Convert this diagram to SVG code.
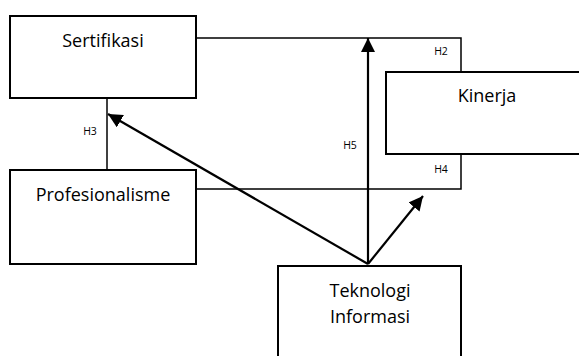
<svg xmlns="http://www.w3.org/2000/svg" width="579" height="356" viewBox="0 0 579 356">
<style>
.box{fill:#fff;stroke:#000;stroke-width:2}
.ln{fill:none;stroke:#000;stroke-width:1.5}
.ar{fill:none;stroke:#000;stroke-width:2.2}
.t{font-family:"Open Sans","Liberation Sans",sans-serif;font-size:18px;fill:#000;text-anchor:middle}
.s{font-family:"Open Sans","Liberation Sans",sans-serif;font-size:10.5px;fill:#000;text-anchor:middle}
</style>
<defs>
<marker id="ah" viewBox="0 0 10 10" refX="10" refY="5" markerWidth="6.5" markerHeight="6.5" orient="auto" markerUnits="strokeWidth">
<path d="M0,0 L10,5 L0,10 z" fill="#000"/>
</marker>
</defs>
<g id="connectors">
<polyline class="ln" points="196,38 461,38 461,72"/>
<polyline class="ln" points="461,154 461,189 196,189"/>
<line class="ln" x1="107" y1="98" x2="107" y2="170"/>
<line class="ar" x1="368" y1="264" x2="368" y2="38" marker-end="url(#ah)"/>
<line class="ar" x1="368" y1="264" x2="108" y2="114" marker-end="url(#ah)"/>
<line class="ar" x1="368" y1="264" x2="423" y2="196" marker-end="url(#ah)"/>
<text class="s" x="441" y="55">H2</text>
<text class="s" x="90" y="135">H3</text>
<text class="s" x="350" y="149">H5</text>
<text class="s" x="441" y="173">H4</text>
</g>
<g id="sertifikasi">
<rect class="box" x="10" y="16" width="186" height="82"/>
<text class="t" x="103" y="47">Sertifikasi</text>
</g>
<g id="kinerja">
<rect class="box" x="386" y="72" width="200" height="82"/>
<text class="t" x="487" y="102">Kinerja</text>
</g>
<g id="profesionalisme">
<rect class="box" x="10" y="170" width="186" height="94"/>
<text class="t" x="103" y="201">Profesionalisme</text>
</g>
<g id="teknologi">
<rect class="box" x="278" y="266" width="183" height="100"/>
<text class="t" x="370" y="297">Teknologi</text>
<text class="t" x="370" y="323">Informasi</text>
</g>
</svg>
